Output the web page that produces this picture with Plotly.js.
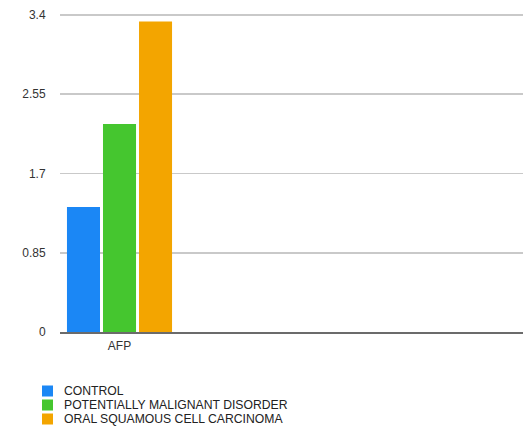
<!DOCTYPE html>
<html>
<head>
<meta charset="utf-8">
<script src="https://cdn.plot.ly/plotly-3.0.1.min.js"></script>
<style>
  html, body { margin: 0; padding: 0; background: #fff; }
  #chart { width: 523px; height: 430px; }
</style>
</head>
<body>
<div id="chart"></div>
<script>
// ---- data ----
var categories = ['AFP'];
var seriesNames = ['CONTROL', 'POTENTIALLY MALIGNANT DISORDER', 'ORAL SQUAMOUS CELL CARCINOMA'];
var controlValues = [1.34];
var pmdValues = [2.23];
var osccValues = [3.33];
var yTickVals = [0, 0.85, 1.7, 2.55, 3.4];
var yTickText = ['0', '0.85', '1.7', '2.55', '3.4'];
var seriesColors = ['#1b87f5', '#45c62f', '#f3a500'];

var seriesValues = [controlValues, pmdValues, osccValues];

var traces = seriesNames.map(function (name, i) {
  return {
    type: 'bar',
    name: name,
    x: categories,
    y: seriesValues[i],
    marker: { color: seriesColors[i], line: { width: 0 } },
    hoverinfo: 'none'
  };
});

// geometry of the plot area (pixels)
var W = 523, H = 430;
var M = { l: 60, r: 0, t: 13, b: 98 };
var plotW = W - M.l - M.r;
var plotH = H - M.t - M.b;
function px2paperX(px) { return (px - M.l) / plotW; }
function px2paperY(py) { return (H - M.b - py) / plotH; }

// custom legend (compact rows)
var shapes = [];
var annotations = [];
var legendTop = 391, rowGap = 14, sq = 11, sqLeft = 42, textLeft = 62;
seriesNames.forEach(function (name, i) {
  var cy = legendTop + i * rowGap;
  shapes.push({
    type: 'rect', xref: 'paper', yref: 'paper',
    x0: px2paperX(sqLeft), x1: px2paperX(sqLeft + sq),
    y0: px2paperY(cy + sq / 2), y1: px2paperY(cy - sq / 2),
    fillcolor: seriesColors[i], line: { width: 0 }
  });
  annotations.push({
    xref: 'paper', yref: 'paper',
    x: px2paperX(textLeft), y: px2paperY(cy),
    xanchor: 'left', yanchor: 'middle',
    text: name, showarrow: false,
    font: { family: 'Liberation Sans, Arial, sans-serif', size: 12.2, color: '#222' }
  });
});

var layout = {
  width: W, height: H,
  margin: M,
  paper_bgcolor: '#ffffff',
  plot_bgcolor: '#ffffff',
  showlegend: false,
  barmode: 'group',
  bargap: 0.092,
  bargroupgap: 0.083,
  font: { family: 'Liberation Sans, Arial, sans-serif', size: 12, color: '#333' },
  xaxis: {
    type: 'category',
    range: [-0.5, 3.39],
    showgrid: false,
    zeroline: false,
    showline: true,
    linecolor: '#6b6b6b',
    linewidth: 2,
    ticks: '',
    tickfont: { size: 12, color: '#333' },
    ticklabelstandoff: 2
  },
  yaxis: {
    range: [0, 3.4213],
    tickvals: yTickVals,
    ticktext: yTickText,
    showgrid: true,
    gridcolor: '#c9c9c9',
    gridwidth: 1.5,
    zeroline: false,
    showline: false,
    ticks: 'outside',
    ticklen: 11,
    tickcolor: 'rgba(0,0,0,0)',
    tickfont: { size: 12, color: '#333' }
  },
  shapes: shapes,
  annotations: annotations
};

Plotly.newPlot('chart', traces, layout, { displayModeBar: false, staticPlot: true });
</script>
</body>
</html>
